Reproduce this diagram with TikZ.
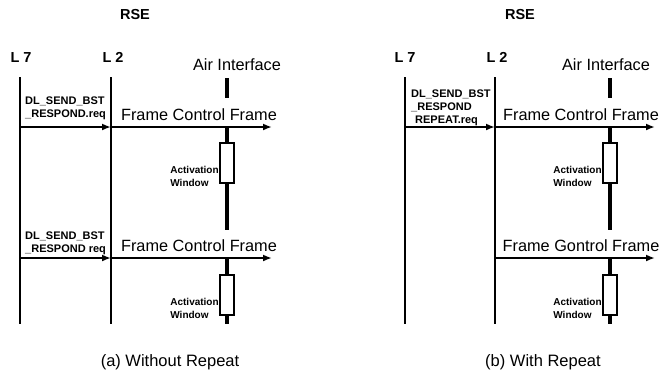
\documentclass[tikz,border=0pt]{standalone}
\usepackage{fontspec}
\setmainfont{Liberation Sans}
\usetikzlibrary{arrows.meta,positioning}

\tikzset{
  lifeline/.style={line width=1.2pt},
  msg/.style={line width=1.8pt, -{Latex[length=9pt,width=7pt]}},
  airbar/.style={line width=4pt},
  winbox/.style={draw, line width=1.2pt, fill=white, minimum width=14pt,
    minimum height=40pt, inner sep=0pt},
  winlabel/.style={font=\bfseries\fontsize{10}{13}\selectfont, align=left,
    inner sep=0.5pt, anchor=north east},
  reqlabel/.style={font=\bfseries\fontsize{11}{13}\selectfont, align=left,
    inner sep=0pt, anchor=west},
  framelabel/.style={font=\fontsize{16.3}{18}\selectfont, inner sep=0pt},
  headlabel/.style={font=\bfseries\fontsize{14.5}{16}\selectfont, inner sep=0pt},
  caption/.style={font=\fontsize{16.5}{18}\selectfont, inner sep=0pt}
}

\begin{document}
\begin{tikzpicture}[x=1pt, y=-1pt]
  \useasboundingbox (0,0) rectangle (666,373);

  % ---------------- (a) without repeat ----------------
  \node[headlabel] (rsea) at (135,15) {RSE};
  \node[headlabel] (l7a) at (21,57.5) {L 7};
  \node[headlabel] (l2a) at (113,57.5) {L 2};
  \node[framelabel] (aira) at (237,65) {Air Interface};
  % lifelines
  \coordinate (a7top) at (20,77);
  \coordinate (a7bot) at (20,324);
  \coordinate (a2top) at (111,77);
  \coordinate (a2bot) at (111,324);
  \draw[lifeline] (a7top) -- (a7bot);
  \draw[lifeline] (a2top) -- (a2bot);
  % first request and frame
  \coordinate (a7m1) at (20,127);
  \coordinate (a2m1) at (111,127);
  \coordinate (aend1) at (272,127);
  \draw[msg] (a7m1) -- (a2m1);
  \draw[msg] (a2m1) -- (aend1);
  \node[reqlabel] (reqa1) at (25,108.5) {DL\_SEND\_BST\\\_RESPOND.req};
  \node[framelabel] (fcfa1) at (199,115) {Frame Control Frame};
  % second request and frame
  \coordinate (a7m2) at (20,258);
  \coordinate (a2m2) at (111,258);
  \coordinate (aend2) at (272,258);
  \draw[msg] (a7m2) -- (a2m2);
  \draw[msg] (a2m2) -- (aend2);
  \node[reqlabel] (reqa2) at (25,243) {DL\_SEND\_BST\\\_RESPOND req};
  \node[framelabel] (fcfa2) at (199,246) {Frame Control Frame};
  % air interface with activation windows
  \node[winbox] (wina1) at (227,163) {};
  \node[winbox] (wina2) at (227,295) {};
  \node[winlabel] (wla1) at ([yshift=-3pt]wina1.west) {Activation\\Window};
  \node[winlabel] (wla2) at ([yshift=-3pt]wina2.west) {Activation\\Window};
  \coordinate (aair0) at (227,78);
  \coordinate (aair1) at (227,98);
  \coordinate (aair2) at (227,127);
  \coordinate (aair3) at (227,230);
  \coordinate (aair4) at (227,258);
  \coordinate (aair5) at (227,324);
  \draw[airbar] (aair0) -- (aair1);
  \draw[airbar] (aair2) -- (wina1.north);
  \draw[airbar] (wina1.south) -- (aair3);
  \draw[airbar] (aair4) -- (wina2.north);
  \draw[airbar] (wina2.south) -- (aair5);
  \node[caption] (capa) at (170,362) {(a) Without Repeat};

  % ---------------- (b) with repeat ----------------
  \node[headlabel] (rseb) at (520,15) {RSE};
  \node[headlabel] (l7b) at (405,57.5) {L 7};
  \node[headlabel] (l2b) at (497,57.5) {L 2};
  \node[framelabel] (airb) at (606,65) {Air Interface};
  % lifelines
  \coordinate (b7top) at (405,77);
  \coordinate (b7bot) at (405,324);
  \coordinate (b2top) at (495,77);
  \coordinate (b2bot) at (495,324);
  \draw[lifeline] (b7top) -- (b7bot);
  \draw[lifeline] (b2top) -- (b2bot);
  % single request, two frames
  \coordinate (b7m1) at (405,127);
  \coordinate (b2m1) at (495,127);
  \coordinate (bend1) at (655,127);
  \draw[msg] (b7m1) -- (b2m1);
  \draw[msg] (b2m1) -- (bend1);
  \node[reqlabel] (reqb1) at (411,108) {DL\_SEND\_BST\\\_RESPOND\\\hspace{4pt}REPEAT.req};
  \node[framelabel] (fcfb1) at (581,115) {Frame Control Frame};
  \coordinate (b2m2) at (495,258);
  \coordinate (bend2) at (655,258);
  \draw[msg] (b2m2) -- (bend2);
  \node[framelabel] (fcfb2) at (581,246) {Frame Gontrol Frame};
  % air interface with activation windows
  \node[winbox] (winb1) at (610,163) {};
  \node[winbox] (winb2) at (610,295) {};
  \node[winlabel] (wlb1) at ([yshift=-3pt]winb1.west) {Activation\\Window};
  \node[winlabel] (wlb2) at ([yshift=-3pt]winb2.west) {Activation\\Window};
  \coordinate (bair0) at (610,78);
  \coordinate (bair1) at (610,98);
  \coordinate (bair2) at (610,127);
  \coordinate (bair3) at (610,230);
  \coordinate (bair4) at (610,258);
  \coordinate (bair5) at (610,324);
  \draw[airbar] (bair0) -- (bair1);
  \draw[airbar] (bair2) -- (winb1.north);
  \draw[airbar] (winb1.south) -- (bair3);
  \draw[airbar] (bair4) -- (winb2.north);
  \draw[airbar] (winb2.south) -- (bair5);
  \node[caption] (capb) at (543,362) {(b) With Repeat};
\end{tikzpicture}
\end{document}
